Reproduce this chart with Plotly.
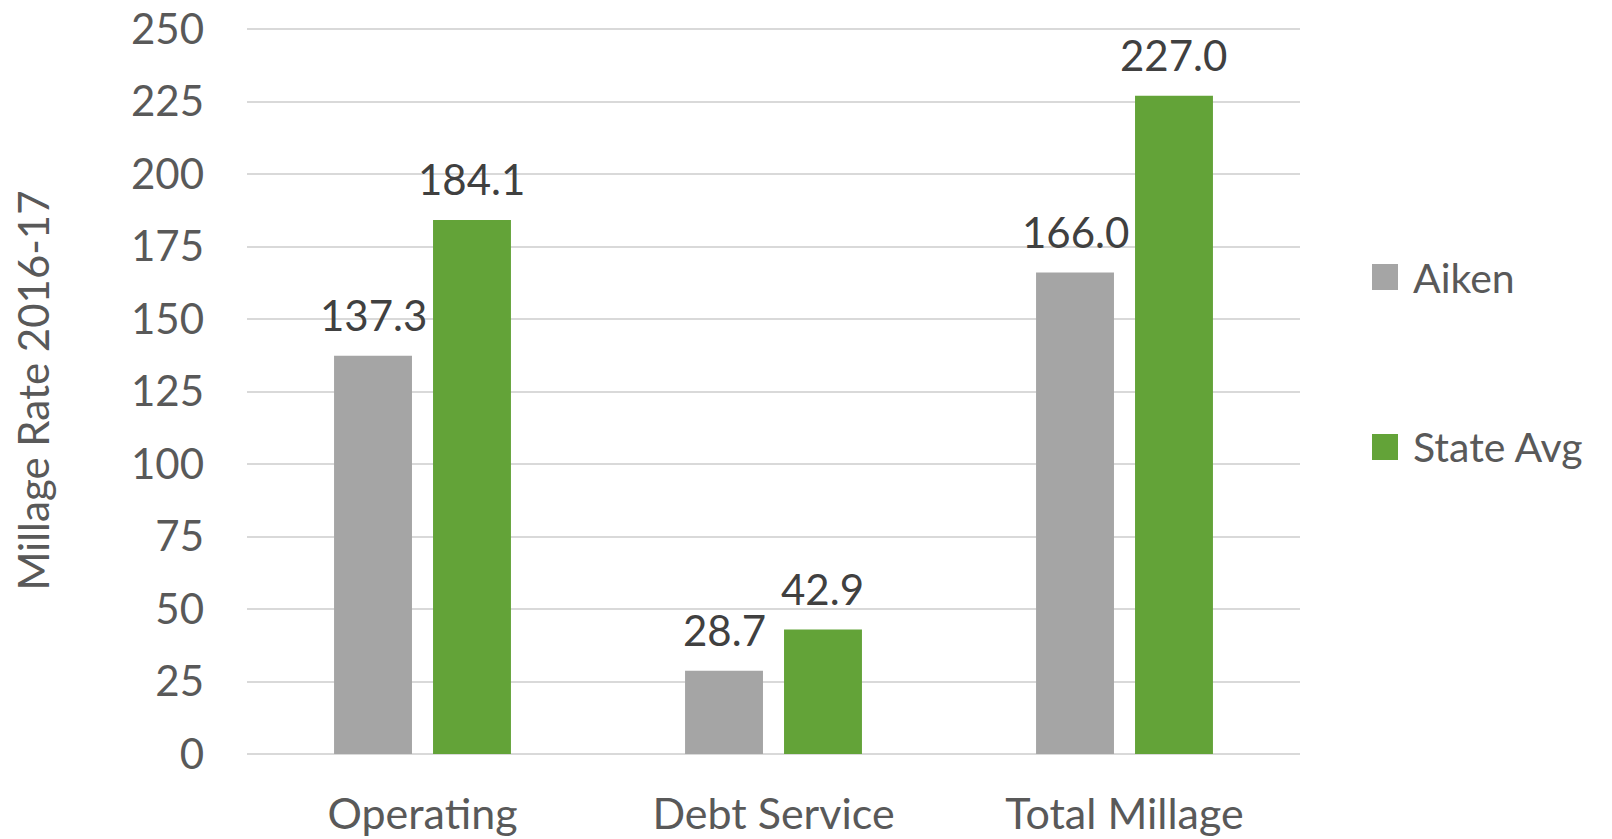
import plotly.graph_objects as go

categories = ["Operating", "Debt Service", "Total Millage"]
series_names = ["Aiken", "State Avg"]
aiken = [137.3, 28.7, 166.0]
state_avg = [184.1, 42.9, 227.0]
y_ticks = [0, 25, 50, 75, 100, 125, 150, 175, 200, 225, 250]
y_title = "Millage Rate 2016-17"

colors = ["#A5A5A5", "#63A338"]
FONT = "Lato"
TICK_COLOR = "#595959"
LABEL_COLOR = "#404040"

# page body has an 8px default margin, so the figure is offset by 8px
OFF = 8
W, H = 1612 - OFF, 839 - OFF
# top margin 2px smaller than the 250 line so its gridline is drawn inside the plot
margin = dict(l=247 - OFF, r=312, t=29 - OFF - 2, b=85, autoexpand=False)
PX_PER_UNIT = 725 / 250
plot_h = H - margin["t"] - margin["b"]
y_top = plot_h / PX_PER_UNIT

bar_w = 0.222
gap = 0.06
offsets = [-(bar_w + gap / 2), gap / 2]

xs = list(range(len(categories)))
fig = go.Figure()
annotations = []
for vals, name, col, off in zip([aiken, state_avg], series_names, colors, offsets):
    fig.add_trace(go.Bar(
        x=xs, y=vals, name=name, width=bar_w, offset=off,
        marker=dict(color=col, line=dict(width=0)), showlegend=False,
    ))
    for xi, v in zip(xs, vals):
        annotations.append(dict(
            x=xi + off + bar_w / 2, y=v, xref="x", yref="y",
            text=f"{v:.1f}", showarrow=False, xanchor="center", yanchor="bottom",
            yshift=14, font=dict(family=FONT, size=42, color=LABEL_COLOR),
        ))

# legend (custom, Excel-style large swatches); positions in page pixels
plot_w = W - margin["l"] - margin["r"]
leg_x0_px, sw = 1372 - OFF, 26
leg_y_px = [277 - OFF, 447 - OFF]
shapes = []
for name, col, cy in zip(series_names, colors, leg_y_px):
    x0 = (leg_x0_px - margin["l"]) / plot_w
    x1 = (leg_x0_px + sw - margin["l"]) / plot_w
    y0 = (H - margin["b"] - (cy + sw / 2)) / plot_h
    y1 = (H - margin["b"] - (cy - sw / 2)) / plot_h
    shapes.append(dict(type="rect", xref="paper", yref="paper", x0=x0, x1=x1, y0=y0, y1=y1,
                       fillcolor=col, line=dict(width=0)))
    annotations.append(dict(
        x=(leg_x0_px + sw + 13 - margin["l"]) / plot_w, y=(y0 + y1) / 2,
        xref="paper", yref="paper", text=name, showarrow=False,
        xanchor="left", yanchor="middle",
        font=dict(family=FONT, size=41, color=TICK_COLOR),
    ))

fig.update_layout(
    width=W, height=H, margin=margin,
    paper_bgcolor="white", plot_bgcolor="white",
    font=dict(family=FONT, color=TICK_COLOR, size=42),
    barmode="overlay",
    showlegend=False,
    annotations=annotations,
    shapes=shapes,
)
fig.update_xaxes(
    range=[-0.5, len(categories) - 0.5], tickmode="array", tickvals=xs, ticktext=categories,
    showgrid=False, zeroline=False, showline=False, ticks="", automargin=False,
    ticklabeloverflow="allow",
    tickfont=dict(family=FONT, size=43, color=TICK_COLOR), ticklabelstandoff=31,
)
fig.update_yaxes(
    range=[0, y_top], tickmode="array", tickvals=y_ticks,
    showgrid=True, gridcolor="#D9D9D9", gridwidth=2,
    zeroline=True, zerolinecolor="#D9D9D9", zerolinewidth=2,
    showline=False, ticks="", automargin=False,
    ticklabeloverflow="allow",
    tickfont=dict(family=FONT, size=42, color=TICK_COLOR), ticklabelstandoff=42,
    title=dict(text=y_title, font=dict(family=FONT, size=42, color=TICK_COLOR), standoff=72),
)

fig.write_html("out.html")
